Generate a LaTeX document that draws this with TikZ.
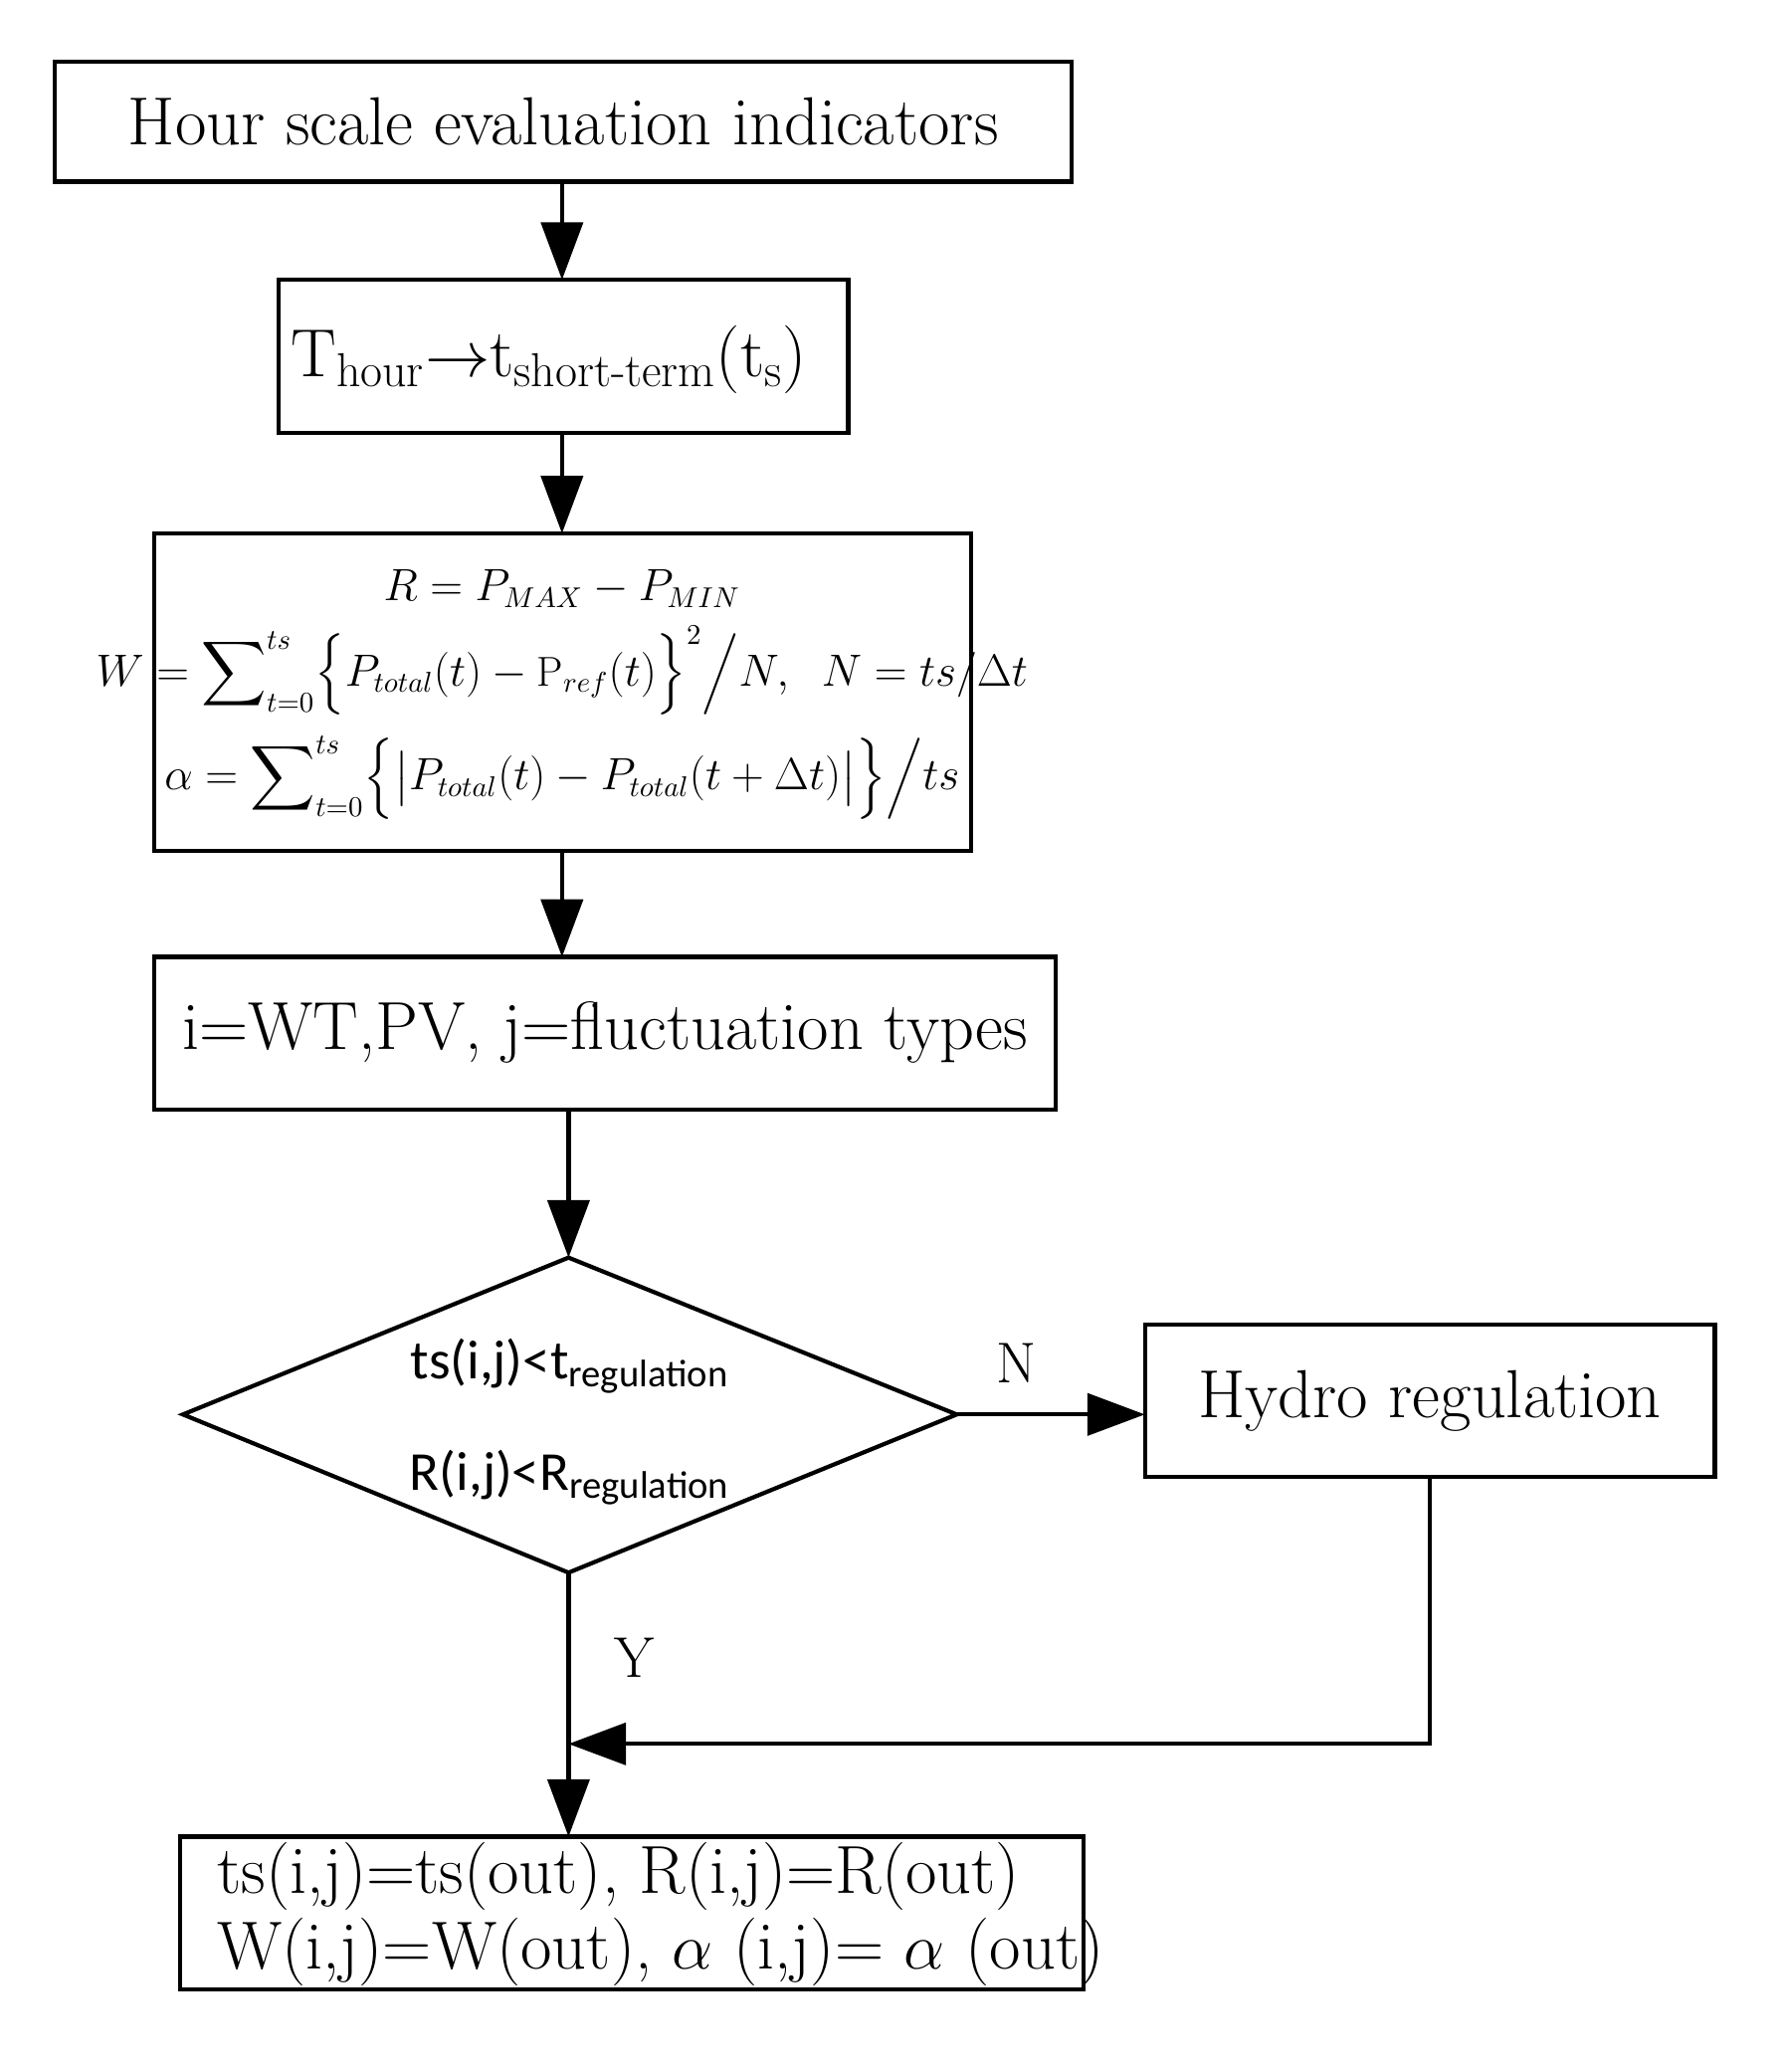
\documentclass[tikz,border=0pt]{standalone}
\usepackage{amsmath}
\usepackage{fontspec}
\newfontfamily\carlitofont{Carlito}
\usetikzlibrary{arrows.meta,shapes.geometric}
\begin{document}
\begin{tikzpicture}[x=0.5pt,y=-0.5pt,line width=1.6pt,
  arr/.style={-{Triangle[length=22pt,width=16pt]}},
  big/.style={font=\fontsize{26}{29}\selectfont}]
\useasboundingbox (0,0) rectangle (1366,1585);
\draw (42,47) rectangle (820,139); \node[big] (a) at (431,93) {Hour scale evaluation indicators};
\coordinate (a1) at (430,139);
\draw (213,214) rectangle (649,331);
\node[big] (b) at (420,275) {T\textsubscript{hour}$\rightarrow$t\textsubscript{short-term}(t\textsubscript{s})};
\coordinate (b0) at (430,214); \coordinate (b1) at (430,331);
\draw (118,408) rectangle (743,651);
\coordinate (c0) at (430,408); \coordinate (c1) at (430,651);
\node[font=\fontsize{16}{19}\selectfont] (c) at (430,530) {$\begin{gathered}
R=P_{MAX}-P_{MIN}\\[0pt]
W=\sum\nolimits_{t=0}^{ts}\Bigl\{P_{total}(t)-\mathrm{P}_{ref}(t)\Bigr\}^2\Big/N,\ \ N=ts/\Delta t\\[4pt]
\alpha=\sum\nolimits_{t=0}^{ts}\Bigl\{\bigl|P_{total}(t)-P_{total}(t+\Delta t)\bigr|\Bigr\}\Big/ts
\end{gathered}$};
\draw (118,732) rectangle (808,849);
\node[big] (d) at (463,790) {i=WT,PV, j=fluctuation types};
\coordinate (d0) at (430,732); \coordinate (d1) at (435,849);
\draw (140,1082) -- (435,962) -- (732,1082) -- (435,1203) -- cycle;
\coordinate (e0) at (435,962); \coordinate (eR) at (732,1082); \coordinate (eB) at (435,1203);
\node[font=\carlitofont\fontsize{21}{24}\selectfont] (e1) at (436,1045) {ts(i,j)<t\textsubscript{regulation}};
\node[font=\carlitofont\fontsize{21}{24}\selectfont] (e2) at (436,1130) {R(i,j)<R\textsubscript{regulation}};
\draw (876,1013) rectangle (1312,1130);
\node[big] (h) at (1094,1072) {Hydro regulation};
\coordinate (h0) at (876,1082); \coordinate (h1) at (1094,1130);
\coordinate (hc) at (1094,1334); \coordinate (m) at (435,1334);
\draw (138,1405) rectangle (829,1522);
\coordinate (f0) at (435,1405);
\node[big,align=left,anchor=west] (f) at (158,1464) {ts(i,j)=ts(out), R(i,j)=R(out)\\W(i,j)=W(out), $\alpha$ (i,j)= $\alpha$ (out)};
\node[font=\fontsize{22}{26}\selectfont] (n) at (778,1043) {N};
\node[font=\fontsize{22}{26}\selectfont] (y) at (485,1268) {Y};
\draw[arr] (a1) -- (b0);
\draw[arr] (b1) -- (c0);
\draw[arr] (c1) -- (d0);
\draw[arr] (d1) -- (e0);
\draw[arr] (eR) -- (h0);
\draw[arr] (eB) -- (f0);
\draw[arr] (h1) -- (hc) -- (m);
\end{tikzpicture}
\end{document}
